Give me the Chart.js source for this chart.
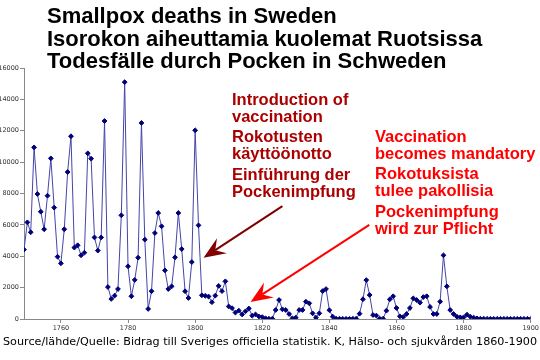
<!DOCTYPE html>
<html>
<head>
<meta charset="utf-8">
<title>Smallpox deaths in Sweden</title>
<script src="https://cdn.jsdelivr.net/npm/chart.js@4.4.1/dist/chart.umd.min.js"></script>
<style>
  html, body { margin: 0; padding: 0; background: #fff; }
  #wrap { width: 540px; height: 360px; }
</style>
</head>
<body>
<div id="wrap"><canvas id="pox" width="540" height="360"></canvas></div>
<script>
const firstYear = 1749;
const lastYear = 1900;

// deaths per year
const deaths = [
  4420,                                                              // 1749
  6160, 5530, 10940, 7970, 6840, 5720, 7860, 10240, 7100, 3970,      // 1750s
  3550, 5720, 9370, 11650, 4550, 4700, 4060, 4230, 10560, 10220,     // 1760s
  5200, 4360, 5200, 12620, 2040, 1280, 1490, 1910, 6610, 15100,      // 1770s
  3360, 1450, 2490, 3910, 12500, 5060, 640, 1770, 5480, 6760,        // 1780s
  5910, 3100, 1910, 2080, 3930, 6760, 4460, 1770, 1340, 3630,        // 1790s
  12030, 5970, 1510, 1480, 1435, 1070, 1490, 2110, 1780, 2400,       // 1800s
  800, 690, 410, 530, 290, 490, 670, 210, 290, 160,                  // 1810s
  120, 40, 15, 15, 575, 1210, 616, 575, 320, 40,                     // 1820s
  85, 575, 575, 1105, 1000, 360, 85, 360, 1780, 1910,                // 1830s
  560, 150, 15, 15, 10, 10, 10, 15, 15, 340,                         // 1840s
  1260, 2480, 1530, 255, 220, 20, 20, 530, 1254, 1450,               // 1850s
  700, 170, 130, 320, 700, 1317, 1211, 1040, 1400, 1450,             // 1860s
  770, 320, 320, 1105, 4060, 2080, 574, 320, 150, 106,               // 1870s
  106, 276, 150, 85, 40, 15, 15, 10, 10, 10,                         // 1880s
  10, 10, 10, 10, 10, 10, 10, 10, 10, 10,                            // 1890s
  10                                                                 // 1900
];

const xTicks = [1760, 1780, 1800, 1820, 1840, 1860, 1880, 1900];
const yTicks = [0, 2000, 4000, 6000, 8000, 10000, 12000, 14000, 16000];

const titleLines = [
  'Smallpox deaths in Sweden',
  'Isorokon aiheuttamia kuolemat Ruotsissa',
  'Todesfälle durch Pocken in Schweden'
];
const introLines = [
  ['Introduction of', 'vaccination'],
  ['Rokotusten', 'käyttöönotto'],
  ['Einführung der', 'Pockenimpfung']
];
const mandatoryLines = [
  ['Vaccination', 'becomes mandatory'],
  ['Rokotuksista', 'tulee pakollisia'],
  ['Pockenimpfung', 'wird zur Pflicht']
];
const sourceNote = 'Source/lähde/Quelle: Bidrag till Sveriges officiella statistik. K, Hälso- och sjukvården 1860-1900';

const points = deaths.map((v, i) => ({ x: firstYear + i, y: v }));

function drawArrow(ctx, x1, y1, x2, y2, color) {
    const a = Math.atan2(y2 - y1, x2 - x1);
    const c = Math.cos(a), s = Math.sin(a);
    const len = 22, wing = 9, notch = 14;
    const bx = x2 - c * notch, by = y2 - s * notch;
    ctx.strokeStyle = color;
    ctx.fillStyle = color;
    ctx.lineWidth = 2;
    ctx.beginPath();
    ctx.moveTo(x1, y1);
    ctx.lineTo(bx, by);
    ctx.stroke();
    ctx.beginPath();
    ctx.moveTo(x2, y2);
    ctx.lineTo(x2 - c * len + s * wing, y2 - s * len - c * wing);
    ctx.lineTo(bx, by);
    ctx.lineTo(x2 - c * len - s * wing, y2 - s * len + c * wing);
    ctx.closePath();
    ctx.fill();
}

function drawBlocks(ctx, blocks, x, top, color) {
    ctx.fillStyle = color;
    ctx.font = 'bold 16.5px "Liberation Sans", Arial, sans-serif';
    ctx.textBaseline = 'middle';
    let y = top;
    blocks.forEach(block => {
        block.forEach(line => {
            ctx.fillText(line, x, y);
            y += 17;
        });
        y += 3.5;
    });
}

const decor = {
    id: 'decor',
    afterDraw(chart) {
        const ctx = chart.ctx;
        const xs = chart.scales.x;
        const ys = chart.scales.y;
        ctx.save();

        // title
        ctx.fillStyle = '#000';
        ctx.font = 'bold 22px "Liberation Sans", Arial, sans-serif';
        ctx.textBaseline = 'alphabetic';
        titleLines.forEach((t, i) => ctx.fillText(t, 47, 23 + i * 22.6));

        // annotations
        drawBlocks(ctx, introLines, 232, 100, '#aa0000');
        drawBlocks(ctx, mandatoryLines, 375, 137, '#ff0000');

        // arrows, anchored in data units
        drawArrow(ctx, xs.getPixelForValue(1826), ys.getPixelForValue(7200),
                  xs.getPixelForValue(1802.5), ys.getPixelForValue(3900), '#800000');
        drawArrow(ctx, xs.getPixelForValue(1851.9), ys.getPixelForValue(6000),
                  xs.getPixelForValue(1816.5), ys.getPixelForValue(1080), '#ff0000');

        // source note, fitted to the width
        let fs = 11;
        ctx.font = fs + 'px "DejaVu Sans", sans-serif';
        fs = fs * 534 / ctx.measureText(sourceNote).width;
        ctx.font = fs.toFixed(2) + 'px "DejaVu Sans", sans-serif';
        ctx.fillStyle = '#000';
        ctx.textBaseline = 'alphabetic';
        ctx.fillText(sourceNote, 3, 345);

        ctx.restore();
    }
};

const tickFont = { family: '"DejaVu Sans", sans-serif', size: 6.5 };

new Chart(document.getElementById('pox').getContext('2d'), {
    type: 'line',
    data: {
        datasets: [{
            data: points,
            borderColor: '#4545a8',
            borderWidth: 1,
            pointStyle: 'rectRot',
            pointRadius: 2.4,
            pointBackgroundColor: '#00007a',
            pointBorderColor: '#00007a',
            pointBorderWidth: 1,
            tension: 0
        }]
    },
    options: {
        responsive: false,
        animation: false,
        devicePixelRatio: 1,
        layout: { padding: { top: 68, right: 8, left: 0, bottom: 0 } },
        plugins: {
            legend: { display: false },
            tooltip: { enabled: false }
        },
        scales: {
            x: {
                type: 'linear',
                min: firstYear,
                max: lastYear,
                afterBuildTicks: scale => {
                    scale.ticks = xTicks.map(v => ({ value: v }));
                },
                afterFit: scale => { scale.height = 41; },
                ticks: {
                    font: tickFont,
                    color: '#333',
                    padding: 1,
                    maxRotation: 0,
                    autoSkip: false,
                    callback: v => String(v)
                },
                grid: { drawOnChartArea: false, tickLength: 4, color: '#888' },
                border: { color: '#888', width: 1 }
            },
            y: {
                min: 0,
                max: 16000,
                afterBuildTicks: scale => {
                    scale.ticks = yTicks.map(v => ({ value: v }));
                },
                afterFit: scale => { scale.width = 24; },
                ticks: {
                    font: tickFont,
                    color: '#333',
                    padding: 1,
                    callback: v => String(v)
                },
                grid: { drawOnChartArea: false, tickLength: 4, color: '#888' },
                border: { color: '#888', width: 1 }
            }
        }
    },
    plugins: [decor]
});
</script>
</body>
</html>
